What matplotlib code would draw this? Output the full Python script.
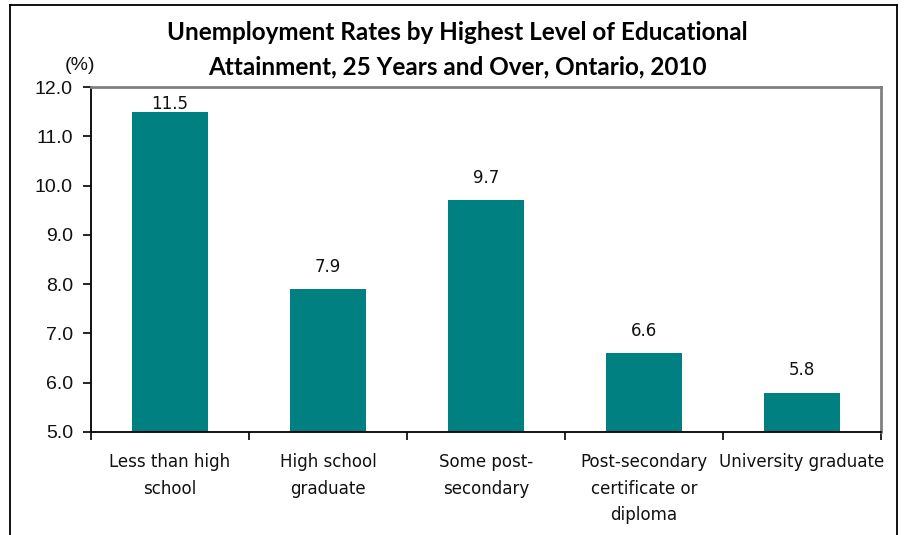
import matplotlib
matplotlib.use("Agg")
import matplotlib.pyplot as plt
from matplotlib.lines import Line2D
from matplotlib.ticker import FormatStrFormatter

categories = ["Less than high\nschool", "High school\ngraduate", "Some post-\nsecondary",
              "Post-secondary\ncertificate or\ndiploma", "University graduate"]
rates = [11.5, 7.9, 9.7, 6.6, 5.8]

TEAL = "#008080"
GRAY = "#808080"
plt.rcParams["font.family"] = ["Liberation Sans", "DejaVu Sans"]

W, H = 905, 535
fig = plt.figure(figsize=(W / 100, H / 100), dpi=100)
fig.patch.set_facecolor("white")

# outer chart frame (bottom edge runs off the image)
for (x0, y0, x1, y1) in [(9.5, 540, 9.5, 5), (9.5, 5, 897, 5), (897, 5, 897, 540)]:
    fig.add_artist(Line2D([x0 / W, x1 / W], [1 - y0 / H, 1 - y1 / H],
                          color="black", lw=1.3, transform=fig.transFigure))

ax = fig.add_axes([91 / W, (H - 432) / H, 790 / W, 345 / H])
x = range(len(rates))
ax.bar(x, rates, width=0.48, color=TEAL, zorder=2)
ax.set_xlim(-0.5, len(rates) - 0.5)
ax.set_ylim(5, 12)
ax.set_yticks(range(5, 13))
ax.yaxis.set_major_formatter(FormatStrFormatter("%.1f"))

ax.set_xticks([i - 0.5 for i in range(len(rates) + 1)])
ax.set_xticklabels([])
ax.tick_params(axis="x", length=6, width=1.2, color="black", direction="out")
ax.tick_params(axis="y", length=6, width=1.2, color="black", direction="out",
               pad=7, labelsize=14, labelcolor="#111111")

cond = dict(family="DejaVu Sans", fontstretch="condensed")
for i, c in enumerate(categories):
    ax.text(i, -0.062, c, transform=ax.get_xaxis_transform(), ha="center", va="top",
            fontsize=13.3, linespacing=1.6, color="#111111", **cond)

for i, v in enumerate(rates):
    ax.text(i, min(v + 0.45, 11.66), f"{v:.1f}", ha="center", va="center",
            fontsize=13.3, color="#111111", zorder=3, **cond)

ax.spines["left"].set_color("black")
ax.spines["bottom"].set_color("black")
ax.spines["left"].set_linewidth(1.3)
ax.spines["bottom"].set_linewidth(1.3)
for s in ("top", "right"):
    ax.spines[s].set_color(GRAY)
    ax.spines[s].set_linewidth(2)

fig.text(80 / W, 1 - 66 / H, "(%)", ha="center", va="center", fontsize=14, color="#111111")
title_font = dict(fontsize=17.5, fontweight="bold", family=["Lato", "DejaVu Sans"])
fig.text(457 / W, 1 - 32 / H, "Unemployment Rates by Highest Level of Educational",
         ha="center", va="center", **title_font)
fig.text(457 / W, 1 - 67 / H, "Attainment, 25 Years and Over, Ontario, 2010",
         ha="center", va="center", **title_font)

fig.savefig("out.png", dpi=100, facecolor="white")
